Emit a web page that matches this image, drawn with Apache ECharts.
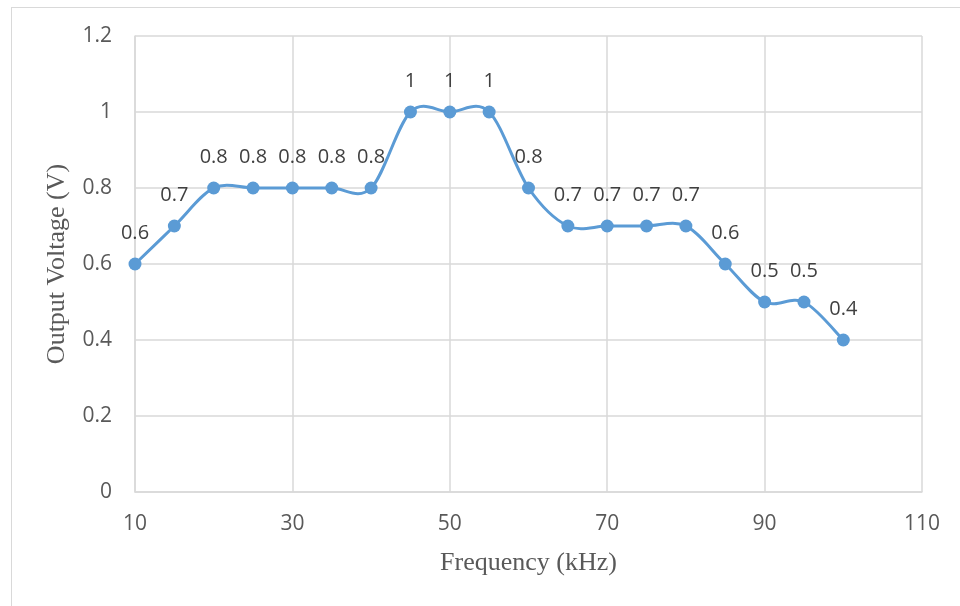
<!DOCTYPE html>
<html>
<head>
<meta charset="utf-8">
<script src="https://cdn.jsdelivr.net/npm/echarts@6/dist/echarts.min.js"></script>
<style>
  html, body { margin: 0; padding: 0; background: #fff; }
  #frame { position: absolute; left: 11px; top: 7px; width: 960px; height: 620px; border: 1px solid #d9d9d9; box-sizing: border-box; }
  #chart { position: absolute; left: 0; top: 0; width: 960px; height: 606px; }
</style>
</head>
<body>
<div id="frame"></div>
<div id="chart"></div>
<script>
// Frequency sweep (kHz) and measured output voltage (V)
const frequency = [10, 15, 20, 25, 30, 35, 40, 45, 50, 55, 60, 65, 70, 75, 80, 85, 90, 95, 100];
const voltage = [0.6, 0.7, 0.8, 0.8, 0.8, 0.8, 0.8, 1, 1, 1, 0.8, 0.7, 0.7, 0.7, 0.7, 0.6, 0.5, 0.5, 0.4];
const xTicks = [10, 30, 50, 70, 90, 110];
const yTicks = [0, 0.2, 0.4, 0.6, 0.8, 1, 1.2];

const points = frequency.map((f, i) => [f, voltage[i]]);
const tickFont = "'Open Sans', 'Noto Sans', sans-serif";
const titleFont = "'Liberation Serif', 'DejaVu Serif', serif";
const lineColor = '#5b9bd5';

// Smoothed curve: one Catmull-Rom style cubic segment from point i to point i+1,
// positioned through the chart's own coordinate system.
function renderSegment(params, api) {
  const i = params.dataIndex;
  if (i >= points.length - 1) return null;
  const p = k => api.coord(points[Math.max(0, Math.min(points.length - 1, k))]);
  const p0 = p(i - 1), p1 = p(i), p2 = p(i + 1), p3 = p(i + 2);
  const t = 1 / 6;
  return {
    type: 'bezierCurve',
    shape: {
      x1: p1[0], y1: p1[1],
      x2: p2[0], y2: p2[1],
      cpx1: p1[0] + (p2[0] - p0[0]) * t, cpy1: p1[1] + (p2[1] - p0[1]) * t,
      cpx2: p2[0] - (p3[0] - p1[0]) * t, cpy2: p2[1] - (p3[1] - p1[1]) * t
    },
    style: { stroke: lineColor, lineWidth: 3, fill: null }
  };
}

const chart = echarts.init(document.getElementById('chart'), null, { renderer: 'canvas' });
chart.setOption({
  animation: false,
  backgroundColor: 'transparent',
  grid: { left: 135, right: 38, top: 36, bottom: 114, containLabel: false },
  xAxis: {
    type: 'value',
    min: xTicks[0], max: xTicks[xTicks.length - 1], interval: 20,
    name: 'Frequency (kHz)', nameLocation: 'middle', nameGap: 58,
    nameTextStyle: { fontFamily: titleFont, fontSize: 26, color: '#595959' },
    axisLine: { show: true, lineStyle: { color: '#d9d9d9', width: 1.5 } },
    axisTick: { show: false },
    axisLabel: { color: '#595959', fontFamily: tickFont, fontSize: 21, margin: 22 },
    splitLine: { show: true, lineStyle: { color: '#d9d9d9', width: 1.5 } }
  },
  yAxis: {
    type: 'value',
    min: yTicks[0], max: yTicks[yTicks.length - 1], interval: 0.2,
    name: 'Output Voltage (V)', nameLocation: 'middle', nameGap: 65,
    nameTextStyle: { fontFamily: titleFont, fontSize: 26, color: '#595959' },
    axisLine: { show: true, lineStyle: { color: '#d9d9d9', width: 1.5 } },
    axisTick: { show: false },
    axisLabel: { color: '#595959', fontFamily: tickFont, fontSize: 21, margin: 23 },
    splitLine: { show: true, lineStyle: { color: '#d9d9d9', width: 1.5 } }
  },
  series: [
    {
      type: 'custom',
      data: points,
      encode: { x: 0, y: 1 },
      renderItem: renderSegment,
      silent: true,
      z: 2
    },
    {
      type: 'scatter',
      data: points,
      symbol: 'circle',
      symbolSize: 13,
      itemStyle: { color: lineColor, opacity: 1 },
      z: 3,
      label: {
        show: true, position: 'top', distance: 14,
        color: '#404040', fontFamily: tickFont, fontSize: 20,
        formatter: p => String(p.value[1])
      }
    }
  ]
});
</script>
</body>
</html>
